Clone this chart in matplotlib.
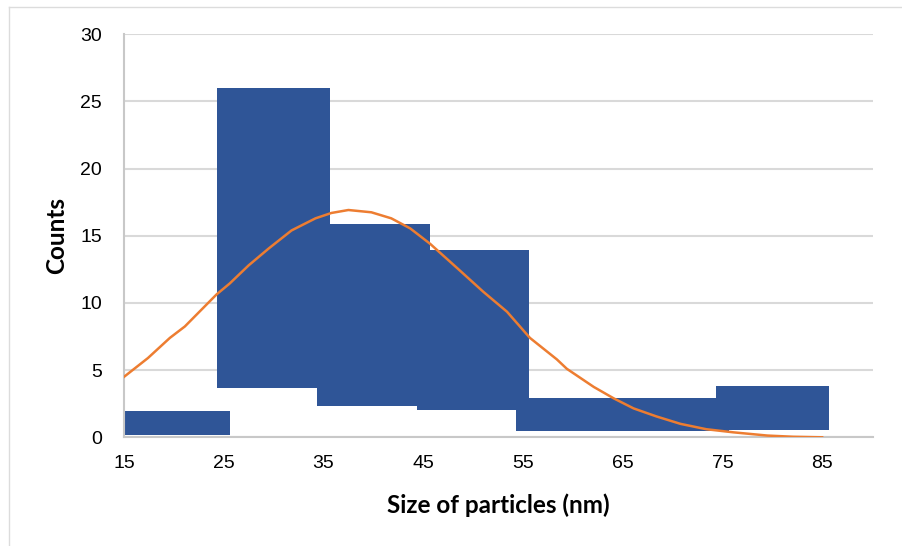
import numpy as np
import matplotlib
matplotlib.use('Agg')
import matplotlib.pyplot as plt
from matplotlib.lines import Line2D

# bin centres and floating bar extents
centros = [20, 30, 40, 50, 60, 70, 80]
base = [0.2, 3.7, 2.35, 2.05, 0.45, 0.45, 0.55]
tope = [1.95, 26.0, 15.9, 13.95, 2.9, 2.9, 3.85]
ancho = 11.3

# fitted curve (orange)
curva_x = [15.0, 17.4, 19.6, 21.1, 23.1, 24.3, 25.6, 27.5, 29.5, 31.8, 34.2, 35.8,
           37.5, 39.8, 41.8, 43.7, 45.7, 48.4, 51.0, 53.4, 55.7, 58.4, 59.4, 62.1,
           64.1, 66.1, 68.4, 70.8, 73.4, 76.1, 79.5, 82.1, 85.0]
curva_y = [4.5, 5.9, 7.4, 8.25, 9.75, 10.65, 11.45, 12.8, 14.05, 15.4, 16.3, 16.7,
           16.92, 16.75, 16.3, 15.55, 14.4, 12.6, 10.85, 9.35, 7.4, 5.8, 5.1, 3.75,
           2.9, 2.15, 1.55, 1.0, 0.6, 0.37, 0.13, 0.04, 0.0]

xticks = [15, 25, 35, 45, 55, 65, 75, 85]
yticks = [0, 5, 10, 15, 20, 25, 30]

fig = plt.figure(figsize=(9.02, 5.46), dpi=100)
ax = fig.add_axes([124/902, 1-437.3/546, 749/902, 403/546])

alturas = [t - b for t, b in zip(tope, base)]
ax.bar(centros, alturas, bottom=base, width=ancho, color='#2F5597', linewidth=0, zorder=2)
ax.plot(curva_x, curva_y, color='#ED7D31', lw=1.8, zorder=3)

ax.set_xlim(15, 90.1)
ax.set_ylim(0, 30)
ax.set_xticks(xticks)
ax.set_yticks(yticks)
ax.tick_params(length=0, labelsize=14)
ax.tick_params(axis='y', pad=16)
ax.tick_params(axis='x', pad=13)
for lab in ax.get_xticklabels() + ax.get_yticklabels():
    lab.set_fontfamily('Liberation Sans')

ax.grid(axis='y', color='#d9d9d9', lw=1.5, zorder=0)
ax.set_axisbelow(True)
for s in ['top', 'right']:
    ax.spines[s].set_visible(False)
for s in ['left', 'bottom']:
    ax.spines[s].set_color('#c8c8c8')
    ax.spines[s].set_linewidth(1.5)

ax.set_xlabel('Size of particles (nm)', fontfamily='Lato', fontweight='bold', fontsize=17.5)
ax.set_ylabel('Counts', fontfamily='Lato', fontweight='bold', fontsize=17.5)
ax.xaxis.set_label_coords(0.5, -0.138)
ax.yaxis.set_label_coords(-0.075, 0.5)

# light frame around the chart
fig.add_artist(Line2D([8.5/902, 8.5/902], [0, 1-7/546], color='#dcdcdc', lw=1))
fig.add_artist(Line2D([8.5/902, 1], [1-7/546, 1-7/546], color='#dcdcdc', lw=1))

fig.savefig('out.png', dpi=100)
